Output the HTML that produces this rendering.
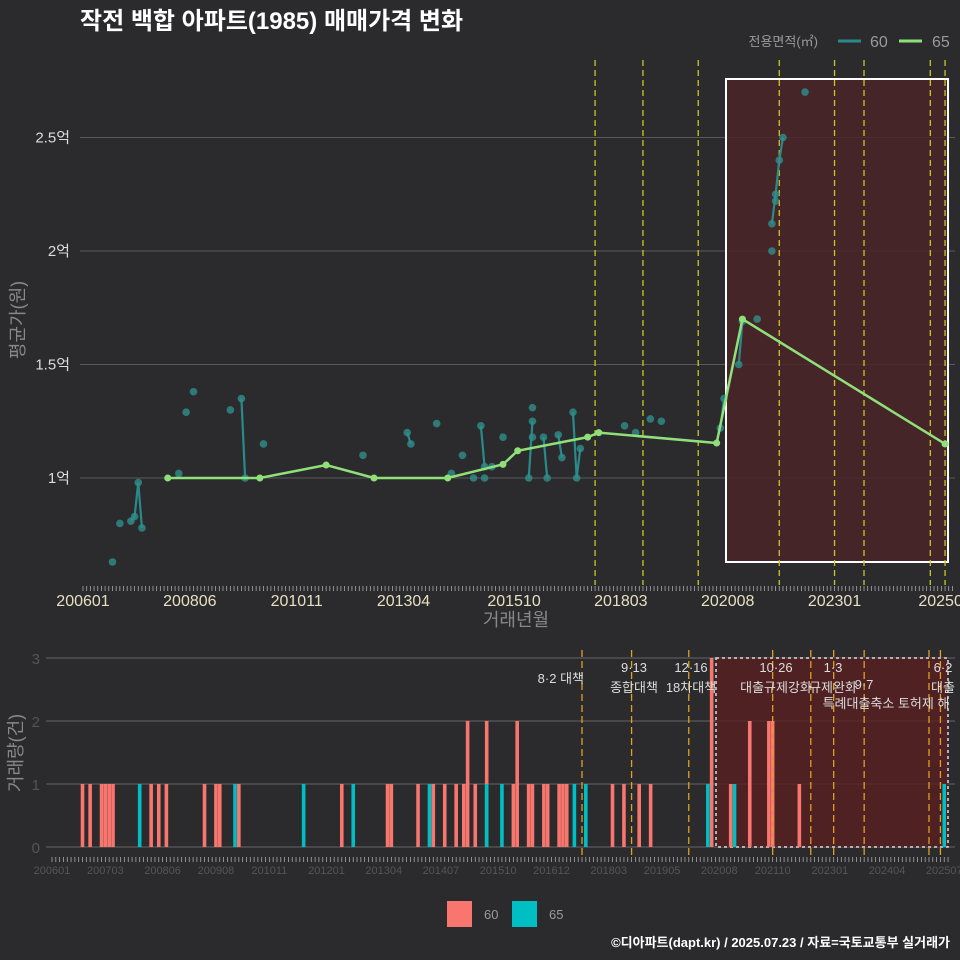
<!DOCTYPE html>
<html><head><meta charset="utf-8">
<style>
html,body{margin:0;padding:0;background:#2b2b2d;}
svg{display:block;font-family:"Liberation Sans","Noto Sans CJK KR",sans-serif;}
</style></head>
<body>
<svg id="c" width="960" height="960" xmlns="http://www.w3.org/2000/svg">
<rect x="0" y="0" width="960" height="960" fill="#2b2b2d"/>
<text x="80" y="29" fill="#ffffff" font-size="24" font-weight="bold">작전 백합 아파트(1985) 매매가격 변화</text>
<g>
<text x="818" y="46" fill="#9a9a9a" font-size="13" text-anchor="end">전용면적(㎡)</text>
<line x1="838" y1="41" x2="861" y2="41" stroke="#2a8a8a" stroke-width="3"/>
<text x="870" y="47" fill="#9a9a9a" font-size="16">60</text>
<line x1="899" y1="41" x2="922" y2="41" stroke="#90e07a" stroke-width="3"/>
<text x="932" y="47" fill="#9a9a9a" font-size="16">65</text>
</g>
<g id="topPanel"></g>
<g id="botPanel"></g>
<g>
<rect x="447" y="901" width="25" height="26" fill="#f8766d"/>
<text x="484" y="919" fill="#9a9a9a" font-size="13">60</text>
<rect x="512" y="901" width="25" height="26" fill="#00bfc4"/>
<text x="549" y="919" fill="#9a9a9a" font-size="13">65</text>
</g>
<text x="950" y="947" fill="#ffffff" font-size="13" font-weight="bold" text-anchor="end">©디아파트(dapt.kr) / 2025.07.23 / 자료=국토교통부 실거래가</text>
</svg>
<script>
// month index: 0 = 2006-01
const teal60Months = [8,10,13,14,15,16,26,28,30,40,43,44,49,76,88,89,96,100,103,106,108,109,111,114,121,122,125,126,129,130,133,134,135,147,150,154,157,173,174,178,179,183,187,188,189,190,196];
const teal60Values = [0.63,0.80,0.81,0.83,0.98,0.78,1.02,1.29,1.38,1.30,1.35,1.0,1.15,1.10,1.20,1.15,1.24,1.02,1.10,1.0,1.23,1.05,1.05,1.18,1.0,1.25,1.18,1.0,1.19,1.09,1.29,1.0,1.13,1.23,1.20,1.26,1.25,1.22,1.35,1.50,1.69,1.70,2.12,2.25,2.40,2.50,2.70];
const extra60Months = [109,122,122,187,188];
const extra60Values = [1.0,1.31,1.18,2.0,2.22];
const green65Months = [23,48,66,79,99,114,118,137,140,172,179,234];
const green65Values = [1.0,1.0,1.057,1.0,1.0,1.06,1.12,1.18,1.2,1.154,1.70,1.15];
const bar60Months = [8,10,13,14,15,16,26,28,30,40,43,44,49,76,88,89,96,100,103,106,108,109,111,114,121,122,125,126,129,130,133,134,135,147,150,154,157,173,178,183,188,189,196];
const bar60Counts = [1,1,1,1,1,1,1,1,1,1,1,1,1,1,1,1,1,1,1,1,1,2,1,2,1,2,1,1,1,1,1,1,1,1,1,1,1,3,1,2,2,2,1];
const bar65Months = [23,48,66,79,99,114,118,137,140,172,179,234];
const bar65Counts = [1,1,1,1,1,1,1,1,1,1,1,1];
const priceTicks = [1,1.5,2,2.5];
const priceTickLabels = ["1억","1.5억","2억","2.5억"];
const topXTickMonths = [0,29,58,87,117,146,175,204,234];
const topXTickLabels = ["200601","200806","201011","201304","201510","201803","202008","202301","202507"];
const botXTickMonths = [0,14,29,43,57,72,87,102,117,131,146,160,175,189,204,219,234];
const botXTickLabels = ["200601","200703","200806","200908","201011","201201","201304","201407","201510","201612","201803","201905","202008","202110","202301","202404","202507"];
const countTicks = [0,1,2,3];
const topPolicyMonths = [139,152,167,189,204,212,230,234];
const botPolicyMonths = [139,152,167,189,199,205,213,230,233];

const NS="http://www.w3.org/2000/svg";
function mk(parent,tag,attrs){const e=document.createElementNS(NS,tag);for(const k in attrs)e.setAttribute(k,attrs[k]);parent.appendChild(e);return e;}
const topG=document.getElementById('topPanel'), botG=document.getElementById('botPanel');
const xT=m=>83+m*3.684, yT=v=>478-(v-1)*227;
const xB=m=>52+m*3.813, yB=c=>847-c*63;

priceTicks.forEach((v,i)=>{
 let l=mk(topG,'line',{x1:80,x2:955,y1:yT(v),y2:yT(v),stroke:'#5a5a5a','stroke-width':1});
 
 
 let t=mk(topG,'text',{x:70,y:yT(v)+5,fill:'#dddddd','font-size':15,'text-anchor':'end'});t.textContent=priceTickLabels[i];
 
 
});
let box=mk(topG,'rect',{x:726,y:79,width:222,height:483,fill:'#4a2428','fill-opacity':0.85,stroke:'#ffffff','stroke-width':2});


topPolicyMonths.forEach(m=>{
 let l=mk(topG,'line',{x1:xT(m),x2:xT(m),y1:60,y2:585,stroke:'#c8c820','stroke-width':1.3,'stroke-dasharray':'6,4'});
 
 
});
for(let m=0;m<=236;m++){
 let l=mk(topG,'line',{x1:xT(m),x2:xT(m),y1:586,y2:591,stroke:'#aaaaaa','stroke-width':0.8});
 
 
}
topXTickMonths.forEach((m,i)=>{
 let t=mk(topG,'text',{x:xT(m),y:606,fill:'#e6e0c0','font-size':16,'text-anchor':'middle'});t.textContent=topXTickLabels[i];
 
 
});
let xt=mk(topG,'text',{x:516,y:626,fill:'#888888','font-size':18,'text-anchor':'middle'});xt.textContent='거래년월';


let yt=mk(topG,'text',{x:0,y:0,fill:'#888888','font-size':18,'text-anchor':'middle',transform:'translate(24,320) rotate(-90)'});yt.textContent='평균가(원)';


for(let i=1;i<teal60Months.length;i++){
 if(teal60Months[i]-teal60Months[i-1]===1){
  let l=mk(topG,'line',{x1:xT(teal60Months[i-1]),y1:yT(teal60Values[i-1]),x2:xT(teal60Months[i]),y2:yT(teal60Values[i]),stroke:'#2a8a8a','stroke-width':2.2});
  
  
 }
}
teal60Months.forEach((m,i)=>{
 let c=mk(topG,'circle',{cx:xT(m),cy:yT(teal60Values[i]),r:3.8,fill:'#2f8f8c','fill-opacity':0.8});
 
 
});
extra60Months.forEach((m,i)=>{
 let c=mk(topG,'circle',{cx:xT(m),cy:yT(extra60Values[i]),r:3.8,fill:'#2f8f8c','fill-opacity':0.8});
 
 
});
let pts=green65Months.map((m,i)=>xT(m)+','+yT(green65Values[i])).join(' ');
let gl=mk(topG,'polyline',{points:pts,fill:'none',stroke:'#90e07a','stroke-width':2.5});


green65Months.forEach((m,i)=>{
 let c=mk(topG,'circle',{cx:xT(m),cy:yT(green65Values[i]),r:3.5,fill:'#90e07a'});
 
 
});

countTicks.forEach(c=>{
 let l=mk(botG,'line',{x1:46,x2:955,y1:yB(c),y2:yB(c),stroke:'#666666','stroke-width':1});
 
 
 let t=mk(botG,'text',{x:40,y:yB(c)+6,fill:'#555555','font-size':15,'text-anchor':'end'});t.textContent=c;
 
 
});
let bb=mk(botG,'rect',{x:716,y:658,width:232,height:189,fill:'#5a1f1f','fill-opacity':0.8,stroke:'#dddddd','stroke-width':1.5,'stroke-dasharray':'3,3'});


bar60Months.forEach((m,i)=>{
 let r=mk(botG,'rect',{x:xB(m)-1.8,y:yB(bar60Counts[i]),width:3.6,height:bar60Counts[i]*63,fill:'#f8766d'});
 
 
});
bar65Months.forEach((m,i)=>{
 let r=mk(botG,'rect',{x:xB(m)-1.8,y:yB(bar65Counts[i]),width:3.6,height:bar65Counts[i]*63,fill:'#00bfc4'});
 
 
});
botPolicyMonths.forEach(m=>{
 let l=mk(botG,'line',{x1:xB(m),x2:xB(m),y1:650,y2:858,stroke:'#e0a020','stroke-width':1.3,'stroke-dasharray':'7,4'});
 
 
});
const notes=[[584,683,'8·2 대책','end'],[634,672,'9·13','middle'],[634,692,'종합대책','middle'],[691,672,'12·16','middle'],[691,692,'18차대책','middle'],[776,672,'10·26','middle'],[776,692,'대출규제강화','middle'],[833,672,'1·3','middle'],[833,692,'규제완화','middle'],[864,689,'9·7','middle'],[886,708,'특례대출축소 토허제 해','middle'],[943,672,'6·2','middle'],[943,692,'대출','middle']];
notes.forEach(n=>{
 let t=mk(botG,'text',{x:n[0],y:n[1],fill:'#dddddd','font-size':13,'text-anchor':n[3]});t.textContent=n[2];
 
 
});
for(let m=0;m<=235;m++){
 let l=mk(botG,'line',{x1:xB(m),x2:xB(m),y1:857,y2:862,stroke:'#aaaaaa','stroke-width':0.8});
 
 
}
botXTickMonths.forEach((m,i)=>{
 let t=mk(botG,'text',{x:xB(m),y:874,fill:'#555555','font-size':11,'text-anchor':'middle'});t.textContent=botXTickLabels[i];
 
 
});
let by=mk(botG,'text',{x:0,y:0,fill:'#888888','font-size':18,'text-anchor':'middle',transform:'translate(22,753) rotate(-90)'});by.textContent='거래량(건)';


</script>
</body></html>
